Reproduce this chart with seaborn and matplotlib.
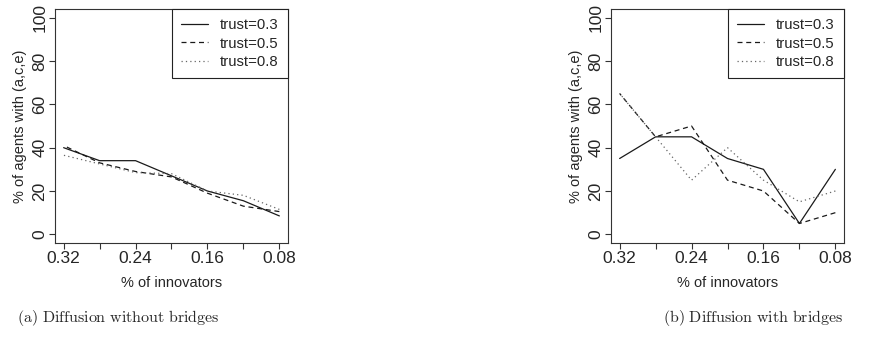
import matplotlib
matplotlib.use("Agg")
import matplotlib.pyplot as plt
import seaborn as sns
import pandas as pd

# share of innovators (x axis, shown in decreasing order)
innovators = [0.32, 0.28, 0.24, 0.20, 0.16, 0.12, 0.08]
xtick_labels = ["0.32", "0.24", "0.16", "0.08"]
yticks = [0, 20, 40, 60, 80, 100]

# (a) diffusion without bridges
no_bridges_t03 = [40, 34, 34, 27, 20, 15.5, 8.5]
no_bridges_t05 = [41, 33, 29, 26.5, 19, 13, 10.5]
no_bridges_t08 = [36.5, 32.5, 28.5, 28, 20, 18, 11.5]

# (b) diffusion with bridges
bridges_t03 = [35, 45, 45, 35, 30, 5, 30]
bridges_t05 = [65, 45, 50, 25, 20, 5, 10]
bridges_t08 = [65, 45, 25, 40, 25, 15, 20]

trust_labels = ["trust=0.3", "trust=0.5", "trust=0.8"]
captions = [r"$\mathrm{(a)\ Diffusion\ without\ bridges}$",
            r"$\mathrm{(b)\ Diffusion\ with\ bridges}$"]

sns.set_theme(style="white")
plt.rcParams["font.family"] = ["Liberation Sans", "DejaVu Sans"]
plt.rcParams["mathtext.fontset"] = "cm"

styles = [dict(color="#1a1a1a", linestyle="-"),
          dict(color="#1a1a1a", linestyle=(0, (4, 3))),
          dict(color="#666666", linestyle=(0, (1, 2.5)))]

fig = plt.figure(figsize=(8.69, 3.38), dpi=100)
ax_a = fig.add_axes([55 / 869, 1 - 243 / 338, 233 / 869, 234 / 338])
ax_b = fig.add_axes([611 / 869, 1 - 243 / 338, 233 / 869, 234 / 338])

panels = [(ax_a, [no_bridges_t03, no_bridges_t05, no_bridges_t08]),
          (ax_b, [bridges_t03, bridges_t05, bridges_t08])]

for ax, series in panels:
    for vals, lab, st in zip(series, trust_labels, styles):
        df = pd.DataFrame({"innovators": innovators, "agents": vals})
        sns.lineplot(data=df, x="innovators", y="agents", ax=ax,
                     label=lab, linewidth=0.9, **st)
    ax.set_xlim(0.3296, 0.0704)
    ax.set_ylim(-4, 104)
    ax.set_xticks(innovators)
    ax.set_xticklabels([xtick_labels[i // 2] if i % 2 == 0 else ""
                        for i in range(len(innovators))], fontsize=12.5)
    ax.set_yticks(yticks)
    ax.set_yticklabels([str(v) for v in yticks], fontsize=12.5,
                       rotation=90, va="center")
    ax.tick_params(axis="both", direction="out", length=4, width=0.8,
                   color="#333333", bottom=True, left=True)
    ax.tick_params(axis="x", pad=2)
    ax.tick_params(axis="y", pad=1.5)
    for sp in ax.spines.values():
        sp.set_visible(True)
        sp.set_color("#333333")
        sp.set_linewidth(0.8)
    ax.set_xlabel("% of innovators", fontsize=10.5, labelpad=7)
    ax.set_ylabel("% of agents with (a,c,e)", fontsize=10.5, labelpad=4)
    leg = ax.legend(loc="upper right", borderaxespad=0, fancybox=False,
                    framealpha=1, edgecolor="#222222", fontsize=10.7,
                    handlelength=1.85, handletextpad=0.8, labelspacing=0.3,
                    borderpad=0.62)
    leg.get_frame().set_linewidth(0.8)

fig.text(118 / 869, 1 - 318 / 338, captions[0], fontsize=11.5,
         ha="center", va="center")
fig.text(753 / 869, 1 - 318 / 338, captions[1], fontsize=11.5,
         ha="center", va="center")

fig.savefig("out.png", dpi=100)
